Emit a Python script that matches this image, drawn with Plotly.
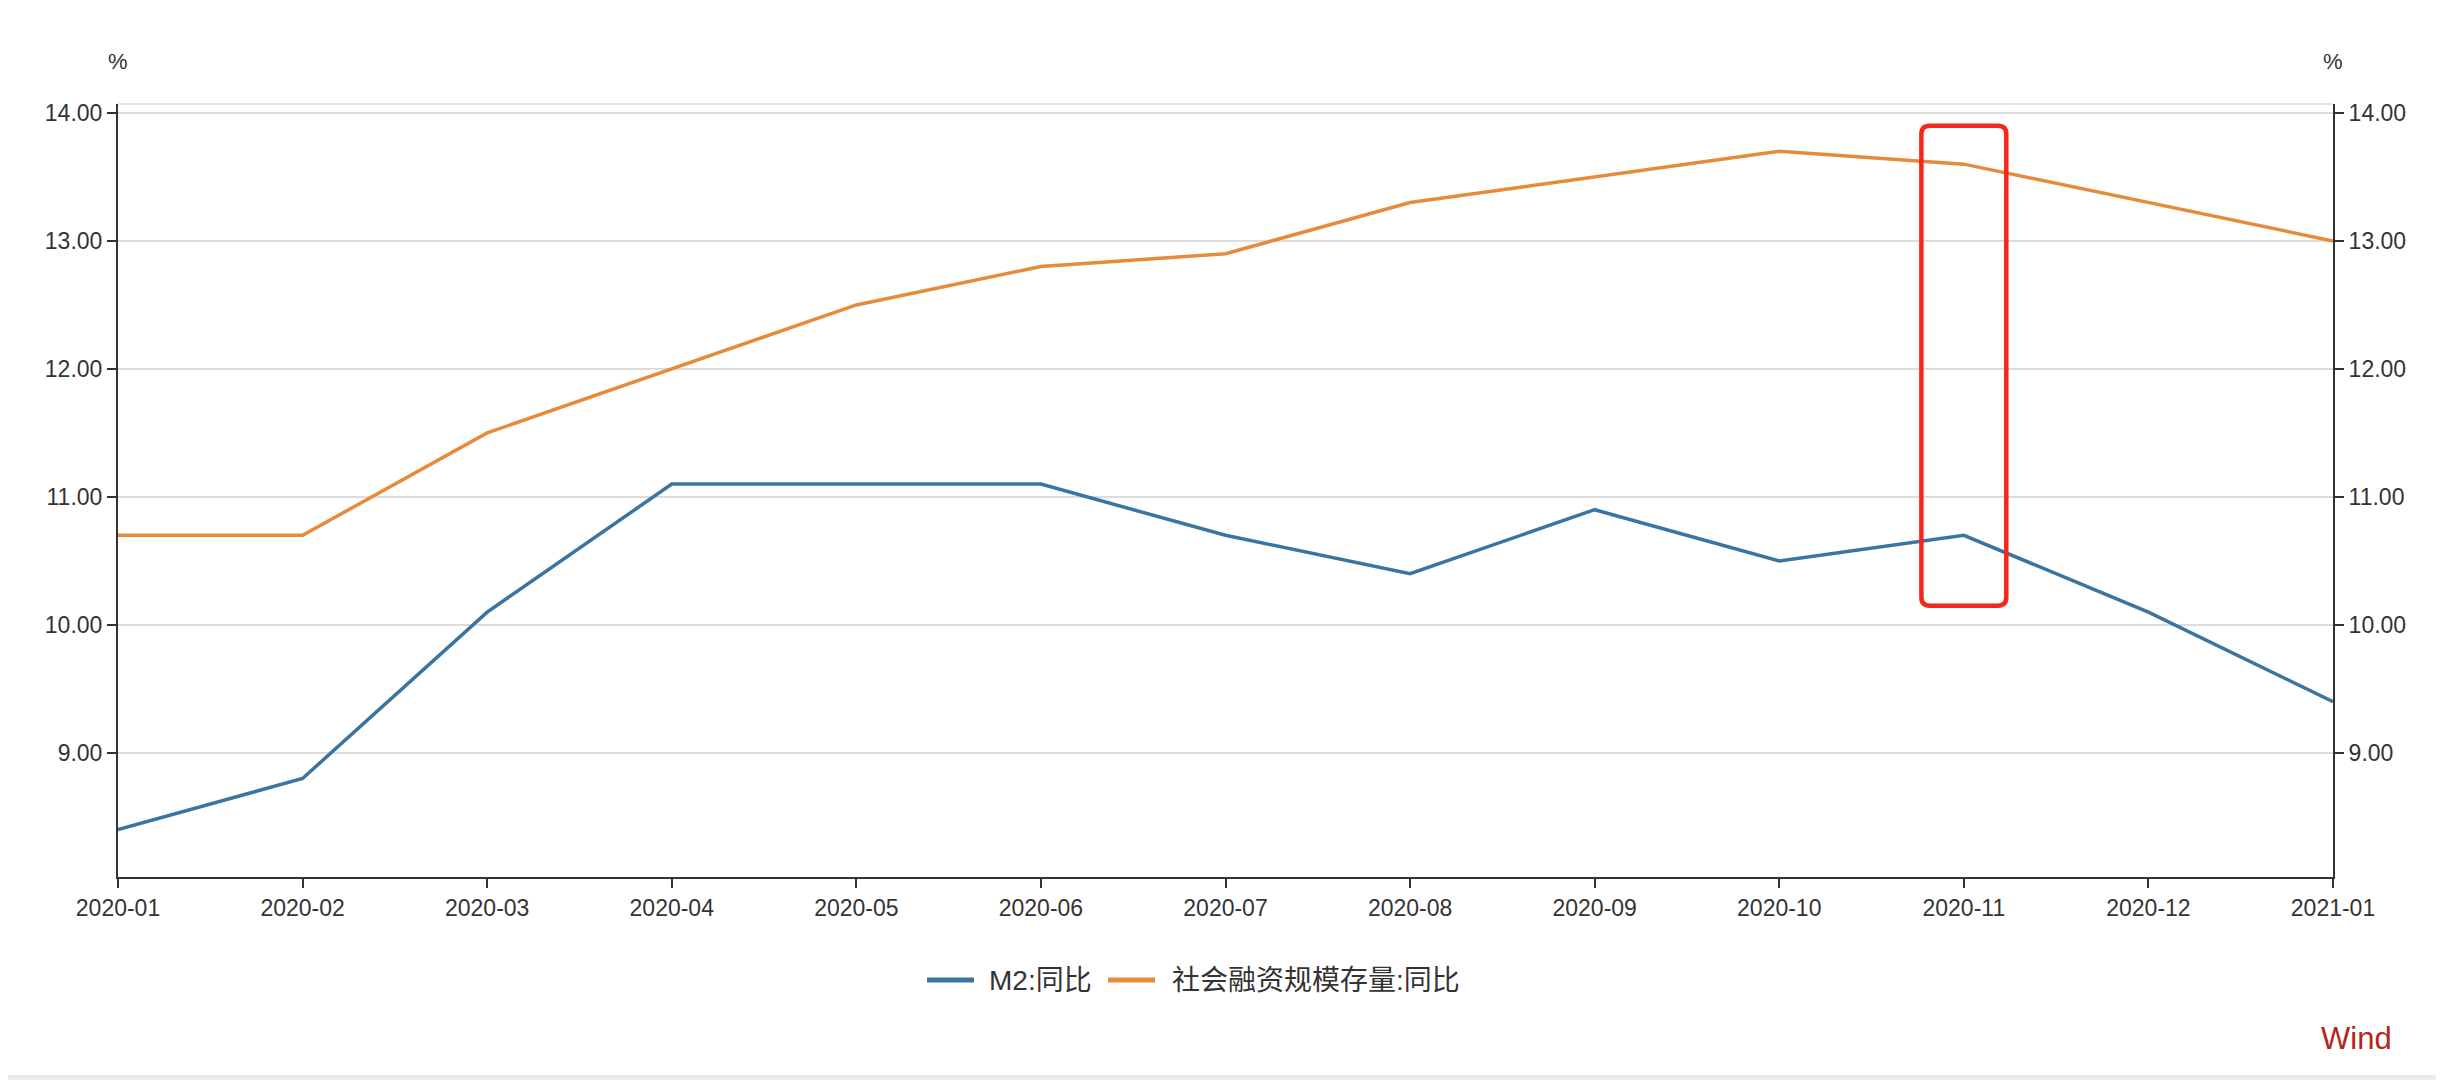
import plotly.graph_objects as go

months = ["2020-01", "2020-02", "2020-03", "2020-04", "2020-05", "2020-06", "2020-07",
          "2020-08", "2020-09", "2020-10", "2020-11", "2020-12", "2021-01"]
m2_yoy = [8.4, 8.8, 10.1, 11.1, 11.1, 11.1, 10.7, 10.4, 10.9, 10.5, 10.7, 10.1, 9.4]
tsf_yoy = [10.7, 10.7, 11.5, 12.0, 12.5, 12.8, 12.9, 13.3, 13.5, 13.7, 13.6, 13.3, 13.0]
y_ticks = [9, 10, 11, 12, 13, 14]
y_ticktext = ["9.00", "10.00", "11.00", "12.00", "13.00", "14.00"]
series_names = ["M2:同比", "社会融资规模存量:同比"]
highlight_month = "2020-11"

FONT = "Liberation Sans, Arial, Noto Sans CJK SC, sans-serif"
COLORS = ["#3a74a0", "#e68b3c"]
YR = [8.03, 14.07]

# page body has an 8px margin: figure is 2436x1072, offset by 8px
W, H = 2436, 1072
ML, MR, MT, MB = 110, 111, 96, 203
OFF = 8
PLOT_L = OFF + ML
PLOT_W = W - ML - MR
PLOT_B = OFF + H - MB
PLOT_H = H - MT - MB


def px_x(px):
    return (px - PLOT_L) / PLOT_W


def px_y(py):
    return (PLOT_B - py) / PLOT_H


x_idx = list(range(len(months)))

fig = go.Figure()
fig.add_trace(go.Scatter(x=x_idx, y=m2_yoy, mode="lines", name=series_names[0],
                         line=dict(color=COLORS[0], width=3.5), showlegend=False))
fig.add_trace(go.Scatter(x=x_idx, y=tsf_yoy, mode="lines", name=series_names[1],
                         line=dict(color=COLORS[1], width=3.5), yaxis="y2",
                         showlegend=False))

axis_common = dict(range=YR, tickvals=y_ticks, ticktext=y_ticktext, ticks="outside",
                   ticklen=9, tickwidth=2, tickcolor="#333", showline=True,
                   linecolor="#333", linewidth=2, zeroline=False,
                   tickfont=dict(size=23, color="#333", family=FONT))

fig.update_layout(
    width=W, height=H,
    margin=dict(l=ML, r=MR, t=MT, b=MB),
    paper_bgcolor="white", plot_bgcolor="white",
    font=dict(family=FONT, color="#333"),
    xaxis=dict(range=[0, len(months) - 1], tickvals=x_idx, ticktext=months,
               ticks="outside", ticklen=9, tickwidth=2, tickcolor="#333",
               showline=True, linecolor="#333", linewidth=2, showgrid=False,
               zeroline=False, tickfont=dict(size=23, color="#333", family=FONT)),
    yaxis=dict(**axis_common, showgrid=True, gridcolor="#dcdcdc", gridwidth=1.5,
               side="left"),
    yaxis2=dict(**axis_common, showgrid=False, overlaying="y", side="right"),
    showlegend=False,
)

# top border line of plot area
fig.add_shape(type="line", xref="paper", yref="paper", x0=0, x1=1, y0=1, y1=1,
              line=dict(color="#dcdcdc", width=1.5))

# highlight box around November (rounded rectangle)
hx = months.index(highlight_month)
x0, x1 = hx - 0.23, hx + 0.23
y0, y1 = 10.15, 13.9
rx, ry = 0.045, 0.065
path = (f"M {x0+rx},{y1} L {x1-rx},{y1} Q {x1},{y1} {x1},{y1-ry} "
        f"L {x1},{y0+ry} Q {x1},{y0} {x1-rx},{y0} L {x0+rx},{y0} "
        f"Q {x0},{y0} {x0},{y0+ry} L {x0},{y1-ry} Q {x0},{y1} {x0+rx},{y1} Z")
fig.add_shape(type="path", xref="x", yref="y", path=path,
              line=dict(color="#f2281a", width=4.5))

# legend (drawn manually to match symbol length and spacing)
leg_y = px_y(980)
leg_items = [(927, 987), (1108, 1170)]
for (sx, tx), name, col in zip(leg_items, series_names, COLORS):
    fig.add_shape(type="line", xref="paper", yref="paper",
                  x0=px_x(sx), x1=px_x(sx + 47), y0=leg_y, y1=leg_y,
                  line=dict(color=col, width=5))
    fig.add_annotation(text=name, xref="paper", yref="paper", x=px_x(tx), y=leg_y,
                       xanchor="left", yanchor="middle", showarrow=False,
                       font=dict(size=28, color="#333", family=FONT))

# unit labels
for xp in (0, 1):
    fig.add_annotation(text="%", xref="paper", yref="paper", x=xp, y=px_y(62),
                       xanchor="center", yanchor="middle", showarrow=False,
                       font=dict(size=22, color="#333", family=FONT))

# source
fig.add_annotation(text="Wind", xref="paper", yref="paper", x=px_x(2394), y=px_y(1038),
                   xanchor="right", yanchor="middle", showarrow=False,
                   font=dict(size=31, color="#b5231b", family=FONT))

# bottom gray strip
fig.add_shape(type="rect", xref="paper", yref="paper", x0=px_x(-20), x1=px_x(2470),
              y0=px_y(1075), y1=px_y(1090), fillcolor="#ebebeb", line=dict(width=0),
              layer="below")

fig.write_html("out.html")
